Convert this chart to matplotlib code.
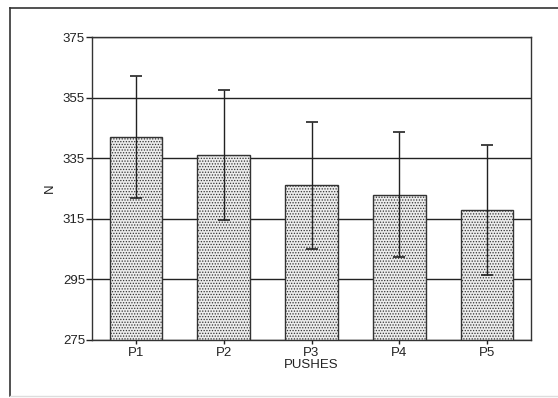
import matplotlib
matplotlib.use("Agg")
import matplotlib.pyplot as plt
from matplotlib.lines import Line2D

categories = ["P1", "P2", "P3", "P4", "P5"]
means = [342, 336, 326, 323, 318]
errors = [20, 21.5, 21, 20.5, 21.5]
yticks = [275, 295, 315, 335, 355, 375]

plt.rcParams['font.family'] = ['Liberation Sans', 'DejaVu Sans']
plt.rcParams['hatch.color'] = '#b0b0b0'
plt.rcParams['hatch.linewidth'] = 0.6

fig = plt.figure(figsize=(5.58, 3.98), dpi=100)
fig.patch.set_facecolor('white')

# outer frame
fig.add_artist(Line2D([10/558, 1.0], [1-8/398, 1-8/398], color='#333333', lw=1.2, transform=fig.transFigure))
fig.add_artist(Line2D([10/558, 10/558], [1-8/398, 1-396/398], color='#333333', lw=1.2, transform=fig.transFigure))
fig.add_artist(Line2D([10/558, 1.0], [1-396/398, 1-396/398], color='#dddddd', lw=1.0, transform=fig.transFigure))

ax = fig.add_axes([92/558, 1-340/398, 439/558, 303/398])
x = list(range(len(categories)))
ax.set_axisbelow(True)
ax.yaxis.grid(True, color='#222222', lw=1.0)
ax.bar(x, means, width=0.6, color='#ececec', edgecolor='#333333', linewidth=1.0, hatch='......', zorder=2)
ax.errorbar(x, means, yerr=errors, fmt='none', ecolor='#222222', elinewidth=1.0, capsize=4, capthick=1.2, zorder=3)

ax.set_xlim(-0.5, len(categories)-0.5)
ax.set_ylim(yticks[0], yticks[-1])
ax.set_yticks(yticks)
ax.set_xticks(x)
ax.set_xticklabels(categories)
ax.tick_params(axis='both', direction='out', length=4, width=1, labelsize=9.5, colors='#222222', pad=1)
ax.tick_params(axis='x', length=3, pad=2)
for s in ax.spines.values():
    s.set_color('#333333')
    s.set_linewidth(1.0)
ax.set_xlabel("PUSHES", fontsize=9.5, labelpad=0, color='#222222')
ax.set_ylabel("N", fontsize=9.5, labelpad=5, color='#222222')

fig.savefig("out.png", dpi=100, facecolor='white')
